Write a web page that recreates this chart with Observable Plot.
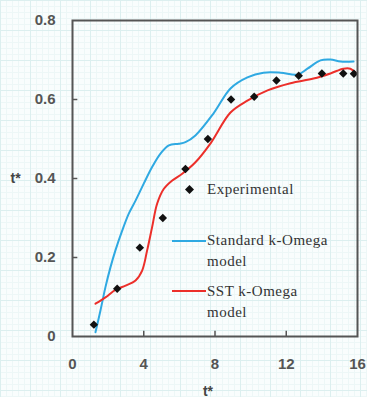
<!DOCTYPE html>
<html>
<head>
<meta charset="utf-8">
<script src="https://cdn.jsdelivr.net/npm/d3@7"></script>
<script src="https://cdn.jsdelivr.net/npm/@observablehq/plot@0.6"></script>
<style>
  html, body { margin: 0; padding: 0; }
  body {
    width: 367px; height: 397px; overflow: hidden; position: relative;
    background-color: #f9fdfd;
    background-image:
      linear-gradient(#dcefef 1px, transparent 1px),
      linear-gradient(90deg, #dcefef 1px, transparent 1px),
      linear-gradient(#edf7f7 1px, transparent 1px),
      linear-gradient(90deg, #edf7f7 1px, transparent 1px);
    background-size: 30px 30px, 30px 30px, 6px 6px, 6px 6px;
    font-family: "Liberation Sans", Arial, sans-serif;
  }
  #chart { position: absolute; left: 0; top: 0; }
  .legend { position: absolute; font-family: "Liberation Serif", "DejaVu Serif", serif; font-size: 15px; letter-spacing: 0.5px; color: #333; line-height: 21px; }
  .legend .item { position: absolute; white-space: nowrap; }
  .legend svg { position: absolute; overflow: visible; }
</style>
</head>
<body>
<div id="chart"></div>
<div class="legend" id="legend"></div>
<script>
// Experimental data (t*, value)
const expX = [1.2, 2.51, 3.78, 5.07, 6.34, 7.6, 8.9, 10.2, 11.45, 12.7, 14.0, 15.2, 15.8];
const expY = [0.030, 0.121, 0.225, 0.30, 0.424, 0.50, 0.60, 0.607, 0.648, 0.66, 0.666, 0.666, 0.665];

// Standard k-Omega model
const stdX = [1.29, 1.57, 1.85, 2.13, 2.41, 2.79, 3.16, 3.54, 4.0, 4.47, 4.94, 5.41, 5.97, 6.34, 6.9, 7.92, 8.87, 9.82, 10.72, 11.68, 12.63, 13.19, 13.92, 14.48, 15.05, 15.78];
const stdY = [0.011, 0.066, 0.125, 0.175, 0.218, 0.268, 0.311, 0.344, 0.387, 0.429, 0.463, 0.484, 0.488, 0.492, 0.509, 0.565, 0.628, 0.656, 0.668, 0.668, 0.663, 0.678, 0.699, 0.701, 0.696, 0.696];

// SST k-Omega model
const sstX = [1.29, 1.85, 2.41, 2.98, 3.54, 3.91, 4.19, 4.47, 4.75, 5.13, 5.6, 6.16, 6.9, 7.75, 8.87, 9.82, 10.95, 12.24, 13.53, 14.48, 15.21, 15.6, 15.9];
const sstY = [0.083, 0.099, 0.118, 0.129, 0.142, 0.167, 0.218, 0.277, 0.336, 0.374, 0.395, 0.412, 0.441, 0.489, 0.567, 0.597, 0.623, 0.641, 0.653, 0.666, 0.678, 0.678, 0.668];

const xTicks = [0, 4, 8, 12, 16];
const yTicks = [0, 0.2, 0.4, 0.6, 0.8];
const xLabel = "t*";
const yLabel = "t*";
const seriesNames = ["Experimental", "Standard k-Omega model", "SST k-Omega model"];
const colors = { std: "#2fa9e2", sst: "#ec2f2a", exp: "#111111" };

const exp = expX.map((x, i) => ({ x, y: expY[i] }));
const std = stdX.map((x, i) => ({ x, y: stdY[i] }));
const sst = sstX.map((x, i) => ({ x, y: sstY[i] }));

const plot = Plot.plot({
  width: 367,
  height: 397,
  marginLeft: 72,
  marginRight: 10,
  marginTop: 20,
  marginBottom: 61,
  style: { background: "transparent", fontFamily: "Liberation Sans, Arial, sans-serif" },
  x: { domain: [0, 16] },
  y: { domain: [0, 0.8] },
  marks: [
    Plot.line(std, { x: "x", y: "y", stroke: colors.std, strokeWidth: 2, curve: "catmull-rom" }),
    Plot.line(sst, { x: "x", y: "y", stroke: colors.sst, strokeWidth: 2, curve: "catmull-rom" }),
    Plot.dot(exp, { x: "x", y: "y", symbol: "diamond2", r: 3.8, fill: colors.exp, stroke: "none" }),
    Plot.ruleY(yTicks.slice(1, -1), { y: d => d, x1: 0, x2: 0.3, stroke: "#555", strokeWidth: 1.5 }),
    Plot.ruleX(xTicks.slice(1, -1), { x: d => d, y1: 0, y2: 0.013, stroke: "#555", strokeWidth: 1.5 }),
    Plot.frame({ stroke: "#555", strokeWidth: 2 }),
    Plot.axisY(yTicks, { tickSize: 0, tickPadding: 17, fontSize: 15, fill: "#555", fontWeight: "bold", label: null, tickFormat: d => d === 0 ? "0" : d3.format(".1f")(d) }),
    Plot.axisX(xTicks, { tickSize: 0, tickPadding: 22, fontSize: 15, fill: "#555", fontWeight: "bold", label: null, tickFormat: d => String(d) }),
    Plot.text([yLabel], { frameAnchor: "left", dx: -62, text: d => d, fontSize: 14, fontWeight: "bold", fill: "#444" }),
    Plot.text([xLabel], { frameAnchor: "bottom", dx: -7, dy: 59, text: d => d, fontSize: 14, fontWeight: "bold", fill: "#444" })
  ]
});
document.getElementById("chart").appendChild(plot);

// Legend (HTML overlay)
const legend = document.getElementById("legend");
legend.style.left = "0px"; legend.style.top = "0px";
function addItem(top, left, html) {
  const d = document.createElement("div");
  d.className = "item";
  d.style.top = top + "px"; d.style.left = left + "px";
  d.innerHTML = html;
  legend.appendChild(d);
}
const ns = "http://www.w3.org/2000/svg";
function addSym(x, y, w, h, inner) {
  const s = document.createElementNS(ns, "svg");
  s.setAttribute("width", w); s.setAttribute("height", h);
  s.style.left = x + "px"; s.style.top = y + "px";
  s.innerHTML = inner;
  legend.appendChild(s);
}
addSym(185, 185, 9, 9, `<path d="M4.5,0L9,4.5L4.5,9L0,4.5Z" fill="${colors.exp}"/>`);
addItem(179, 207, seriesNames[0]);
addSym(172, 240, 34, 2, `<line x1="0" y1="1" x2="34" y2="1" stroke="${colors.std}" stroke-width="2"/>`);
addItem(230, 207, "Standard k-Omega<br>model");
addSym(172, 290, 34, 2, `<line x1="0" y1="1" x2="34" y2="1" stroke="${colors.sst}" stroke-width="2"/>`);
addItem(281, 207, "SST k-Omega<br>model");
</script>
</body>
</html>
